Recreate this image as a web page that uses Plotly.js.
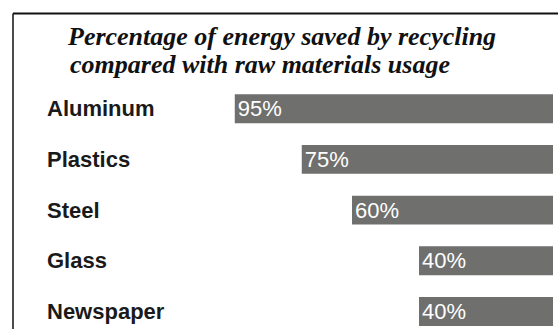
<!DOCTYPE html>
<html>
<head>
<meta charset="utf-8">
<script src="https://cdn.plot.ly/plotly-3.0.1.min.js"></script>
<style>html,body{margin:0;padding:0;background:#fff;}#chart{width:558px;height:329px;}</style>
</head>
<body>
<div id="chart"></div>
<script>
const categories = ["Aluminum", "Plastics", "Steel", "Glass", "Newspaper"];
const values = [95, 75, 60, 40, 40];
const labels = ["95%", "75%", "60%", "40%", "40%"];
const titleLine1 = "Percentage of energy saved by recycling";
const titleLine2 = "compared with raw materials usage";

const barColor = "#6f6f6d";
const titleFont = {family: "Liberation Serif, Times New Roman, serif", size: 26, color: "#111111"};

const trace = {
  type: "bar",
  orientation: "h",
  y: categories,
  x: values,
  text: labels,
  textposition: "inside",
  insidetextanchor: "end",
  constraintext: "none",
  textfont: {family: "Liberation Sans, Arial, sans-serif", size: 22, color: "#ffffff"},
  marker: {color: barColor, line: {width: 0}},
  width: 0.57,
  hoverinfo: "skip"
};

const annotations = categories.map(c => ({
  xref: "paper", yref: "y",
  x: 0.058, y: c,
  xanchor: "left", yanchor: "middle",
  text: "<b>" + c + "</b>",
  showarrow: false,
  font: {family: "Liberation Sans, Arial, sans-serif", size: 22, color: "#1a1a1a"}
}));

annotations.push({
  xref: "paper", yref: "paper",
  x: (68 - 13) / 545, y: 1 - (48 - 12) / 317,
  xanchor: "left", yanchor: "top",
  text: "<b><i>" + titleLine2 + "</i></b>",
  showarrow: false,
  font: titleFont
});

const layout = {
  width: 558, height: 329,
  margin: {l: 13, r: 0, t: 12, b: 0, pad: 0},
  paper_bgcolor: "#ffffff",
  plot_bgcolor: "#ffffff",
  showlegend: false,
  title: {
    text: "<b><i>" + titleLine1 + "</i></b>",
    x: 68/558, xanchor: "left", xref: "container",
    y: 1 - 27/329, yanchor: "top", yref: "container",
    font: titleFont
  },
  xaxis: {
    range: [161.2, -1.49],
    showline: false,
    showgrid: false, zeroline: false, showticklabels: false, ticks: ""
  },
  yaxis: {
    type: "category",
    range: [4.345, -1.907],
    showline: false,
    showgrid: false, zeroline: false, showticklabels: false, ticks: ""
  },
  shapes: [
    {type: "line", xref: "paper", yref: "paper", x0: 0, x1: 1, y0: 0.995, y1: 0.995,
     line: {color: "#111111", width: 2}, layer: "above"},
    {type: "line", xref: "paper", yref: "paper", x0: 0, x1: 0, y0: 0, y1: 0.995,
     line: {color: "#111111", width: 1.5}, layer: "above"}
  ],
  annotations: annotations
};

Plotly.newPlot("chart", [trace], layout, {staticPlot: true, displayModeBar: false});
</script>
</body>
</html>
